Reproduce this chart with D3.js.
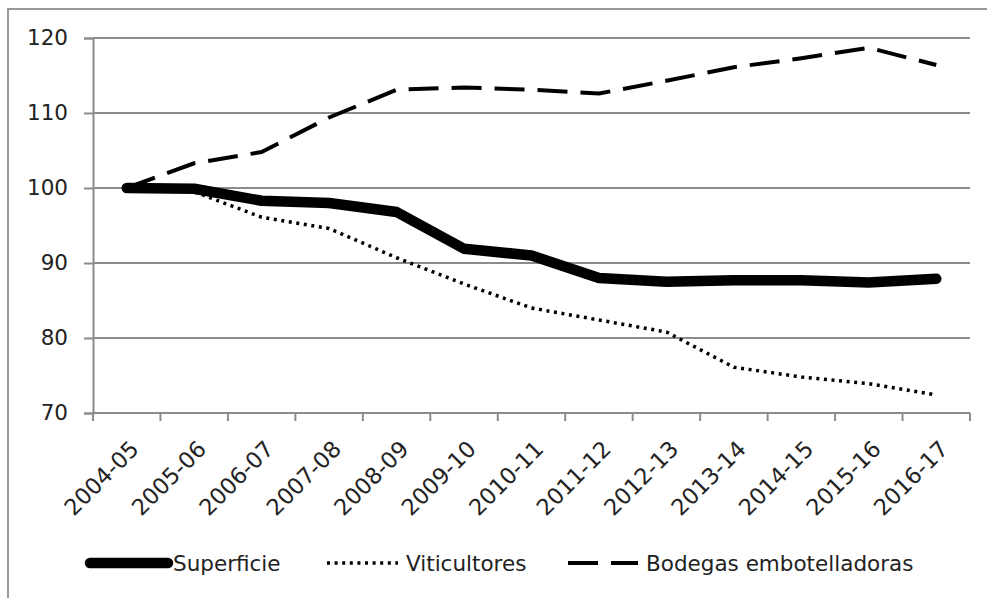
<!DOCTYPE html>
<html>
<head>
<meta charset="utf-8">
<script src="https://d3js.org/d3.v7.min.js"></script>
<style>
  body { margin: 0; background: #fff; }
  .chart { width: 987px; height: 598px; }
  text { font-family: "DejaVu Sans", sans-serif; fill: #222; }
</style>
</head>
<body>
<div class="chart"></div>
<script>
  var campanas = ["2004-05", "2005-06", "2006-07", "2007-08", "2008-09", "2009-10", "2010-11",
                  "2011-12", "2012-13", "2013-14", "2014-15", "2015-16", "2016-17"];
  var superficie   = [100, 99.9, 98.3, 98.0, 96.8, 91.9, 91.0, 88.0, 87.5, 87.7, 87.7, 87.4, 87.9];
  var viticultores = [100, 99.5, 96.1, 94.6, 90.7, 87.2, 84.0, 82.4, 80.8, 76.1, 74.8, 73.9, 72.4];
  var bodegas      = [100, 103.3, 104.8, 109.4, 113.1, 113.4, 113.1, 112.6, 114.3, 116.1, 117.3, 118.7, 116.4];
  var yTicks = [70, 80, 90, 100, 110, 120];
  var nombres = ["Superficie", "Viticultores", "Bodegas embotelladoras"];

  var margin = { top: 38, right: 17, bottom: 185, left: 93 },
      W = 987, H = 598,
      width = W - margin.left - margin.right,
      height = H - margin.top - margin.bottom;

  var svg = d3.select(".chart").append("svg")
      .attr("width", W)
      .attr("height", H);

  // grey frame around everything (runs off right and bottom)
  svg.append("rect")
      .attr("x", 8).attr("y", 9)
      .attr("width", W).attr("height", H)
      .attr("fill", "none")
      .attr("stroke", "#999")
      .attr("stroke-width", 2);

  var g = svg.append("g")
      .attr("transform", "translate(" + margin.left + "," + margin.top + ")");

  var x = d3.scaleBand().domain(campanas).range([0, width]);
  var y = d3.scaleLinear().domain([70, 120]).range([height, 0]);

  // horizontal grid
  g.selectAll(".grid")
      .data(yTicks.slice(1))
      .enter().append("line")
      .attr("x1", 0).attr("x2", width)
      .attr("y1", function(d) { return y(d); })
      .attr("y2", function(d) { return y(d); })
      .attr("stroke", "#8c8c8c")
      .attr("stroke-width", 2);

  var yAxis = g.append("g")
      .call(d3.axisLeft(y).tickValues(yTicks).tickSize(9).tickPadding(16));
  yAxis.select(".domain").attr("stroke", "#8c8c8c").attr("stroke-width", 2);
  yAxis.selectAll(".tick line").attr("stroke", "#8c8c8c").attr("stroke-width", 2);
  yAxis.selectAll("text").style("font-size", "21.5px").attr("fill", "#222");

  // x axis: ticks on band edges
  var xAxis = g.append("g").attr("transform", "translate(0," + height + ")");
  xAxis.append("line")
      .attr("x1", 0).attr("x2", width)
      .attr("stroke", "#8c8c8c").attr("stroke-width", 2);
  var edges = campanas.map(function(c) { return x(c); }).concat([width]);
  xAxis.selectAll(".xt")
      .data(edges)
      .enter().append("line")
      .attr("x1", function(d) { return d; })
      .attr("x2", function(d) { return d; })
      .attr("y1", 0).attr("y2", 8)
      .attr("stroke", "#8c8c8c").attr("stroke-width", 2);
  xAxis.selectAll(".xl")
      .data(campanas)
      .enter().append("text")
      .attr("transform", function(d) {
        return "translate(" + (x(d) + x.bandwidth() / 2 + 2) + ",26) rotate(-45)";
      })
      .attr("text-anchor", "end")
      .attr("dy", "0.72em")
      .style("font-size", "22.5px")
      .text(function(d) { return d; });

  var line = d3.line()
      .x(function(d, i) { return x(campanas[i]) + x.bandwidth() / 2; })
      .y(function(d) { return y(d); });

  var series = [
    { vals: superficie,   w: 10.5, dash: null,    cap: "round" },
    { vals: viticultores, w: 3.5,  dash: "3,4.6", cap: "butt" },
    { vals: bodegas,      w: 4,    dash: "30,13", cap: "butt" }
  ];

  g.selectAll(".serie")
      .data(series)
      .enter().append("path")
      .attr("class", "serie")
      .attr("d", function(s) { return line(s.vals); })
      .attr("fill", "none")
      .attr("stroke", "#000")
      .attr("stroke-width", function(s) { return s.w; })
      .attr("stroke-linecap", function(s) { return s.cap; })
      .attr("stroke-linejoin", "round")
      .attr("stroke-dasharray", function(s) { return s.dash; });

  // legend
  var leyX = [90, 327, 568];
  var leyW = [78, 71, 70];
  var ley = svg.append("g").attr("transform", "translate(0,563)");
  series.forEach(function(s, i) {
    ley.append("line")
        .attr("x1", leyX[i]).attr("x2", leyX[i] + leyW[i])
        .attr("stroke", "#000")
        .attr("stroke-width", s.w)
        .attr("stroke-linecap", s.cap)
        .attr("stroke-dasharray", s.dash);
    ley.append("text")
        .attr("x", leyX[i] + leyW[i] + (i == 0 ? 5 : 8))
        .attr("dy", "0.36em")
        .style("font-size", "21.5px")
        .text(nombres[i]);
  });
</script>
</body>
</html>
